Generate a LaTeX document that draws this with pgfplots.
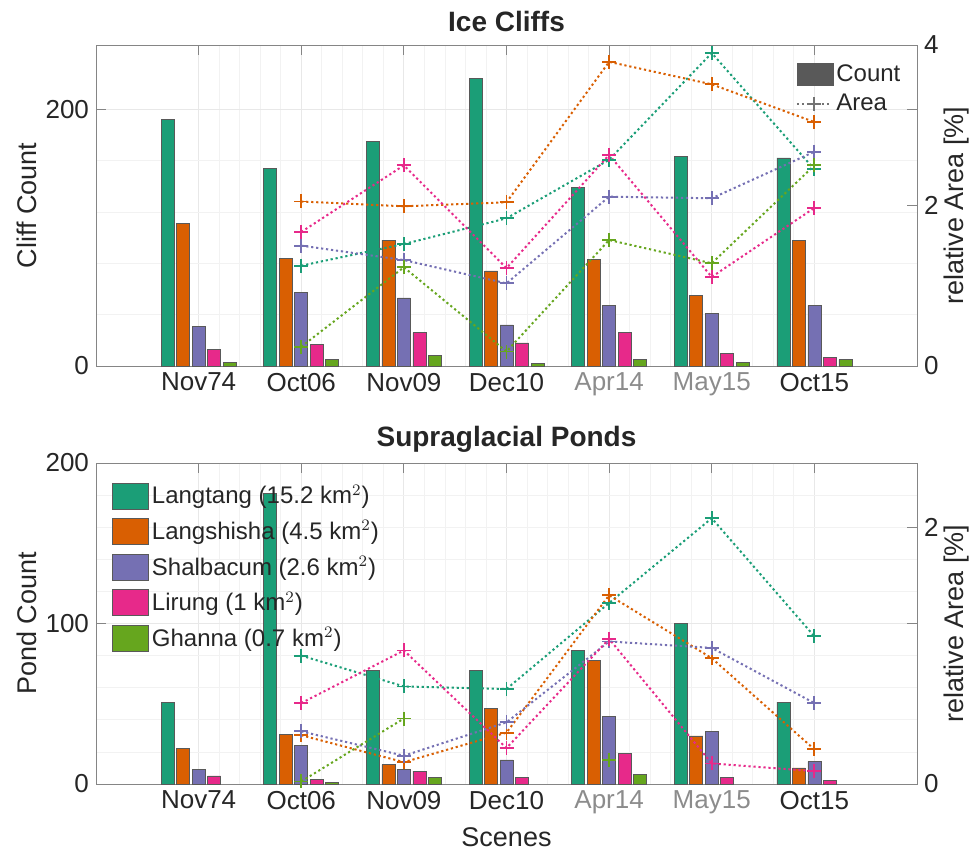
\documentclass[border=0pt]{standalone}
\usepackage{fontspec}
\setmainfont{Liberation Sans}
\usepackage{pgfplots}
\pgfplotsset{compat=1.18}
\definecolor{cA}{HTML}{1B9E77}
\definecolor{cB}{HTML}{D95F02}
\definecolor{cC}{HTML}{7570B3}
\definecolor{cD}{HTML}{E7298A}
\definecolor{cE}{HTML}{66A61E}
\definecolor{axgray}{HTML}{858585}
\definecolor{txt}{HTML}{262626}
\definecolor{lightlab}{HTML}{8C8C8C}
\pgfplotsset{
  base/.style={scale only axis, width=410.5pt, height=160.5pt,
    xmin=0, xmax=8, xtick={1,...,7},
    xticklabels={Nov74,Oct06,Nov09,Dec10,\textcolor{lightlab}{Apr14},\textcolor{lightlab}{May15},Oct15},
    tick align=inside, major tick length=5pt, minor tick length=0pt,
    axis line style={axgray}, every tick/.style={axgray},
    /pgf/number format/assume math mode=true,
    font=\fontsize{12}{14}\selectfont,
    tick label style={text=txt, font=\fontsize{13}{15}\selectfont},
    label style={text=txt, font=\fontsize{13.5}{16}\selectfont},
    title style={text=txt, font=\fontsize{14}{16}\selectfont\bfseries}},
  leftax/.style={base, ytick pos=both, yticklabel pos=left, xtick pos=both, xticklabel pos=bottom,
    grid=both, minor x tick num=4, minor y tick num=4,
    major grid style={black!9}, minor grid style={black!5}, ylabel shift=-2.5pt},
  rightax/.style={base, axis y line*=right, axis x line=none, ymin=0, ylabel shift=-4pt},
  mybar/.style={ybar, bar width=6.5pt, draw=black!65, line width=0.35pt,
    legend image code/.code={\draw[##1] (0pt,-6.5pt) rectangle (18pt,6.5pt);}},
  myline/.style={dash pattern=on 1.1pt off 1.4pt, line width=1pt, mark=+, mark size=3.5pt,
    mark options={solid, line width=0.9pt}, forget plot},
  countleg/.style={legend image code/.code={\draw[fill=black!65,draw=black!65] (0pt,-5.5pt) rectangle (18pt,5.5pt);}},
}
\begin{document}
\begin{tikzpicture}
\useasboundingbox (-48pt,-243pt) rectangle (440pt,183pt);
% ---------------- Ice Cliffs ----------------
\begin{axis}[leftax, ymin=0, ymax=250, ytick={0,200},
  title={Ice Cliffs}, title style={yshift=-3pt},
  ylabel={Cliff Count}]
\addplot[mybar, bar shift=-15.5pt, fill=cA] coordinates {(1,192) (2,154) (3,175) (4,224) (5,139) (6,163) (7,162)};
\addplot[mybar, bar shift=-7.75pt, fill=cB] coordinates {(1,111) (2,84) (3,98) (4,74) (5,83) (6,55) (7,98)};
\addplot[mybar, bar shift=0pt, fill=cC] coordinates {(1,31) (2,57) (3,53) (4,32) (5,47) (6,41) (7,47)};
\addplot[mybar, bar shift=7.75pt, fill=cD] coordinates {(1,13) (2,17) (3,26) (4,18) (5,26) (6,10) (7,7)};
\addplot[mybar, bar shift=15.5pt, fill=cE] coordinates {(1,3) (2,5) (3,8) (4,2) (5,5) (6,2.5) (7,5)};
\end{axis}
\begin{axis}[rightax, ymax=4, ytick={0,2,4}, ylabel={relative Area [\%]},
  legend style={at={(rel axis cs:0.845,0.962)}, anchor=north west, draw=none, fill=none,
    row sep=2pt, nodes={inner sep=1.5pt, text=txt}}, legend cell align=left]
\addplot[myline, cA] coordinates {(2,1.25) (3,1.52) (4,1.84) (5,2.57) (6,3.90) (7,2.45)};
\addplot[myline, cB] coordinates {(2,2.05) (3,1.99) (4,2.04) (5,3.79) (6,3.51) (7,3.04)};
\addplot[myline, cC] coordinates {(2,1.50) (3,1.32) (4,1.03) (5,2.11) (6,2.09) (7,2.67)};
\addplot[myline, cD] coordinates {(2,1.67) (3,2.50) (4,1.22) (5,2.63) (6,1.11) (7,1.97)};
\addplot[myline, cE] coordinates {(2,0.24) (3,1.23) (4,0.18) (5,1.57) (6,1.28) (7,2.50)};
\addlegendimage{countleg}
\addlegendentry{Count}
\addlegendimage{black!55, dash pattern=on 1pt off 1.5pt, line width=0.8pt, mark=+, mark size=3.5pt, mark options={solid, line width=0.9pt}}
\addlegendentry{Area}
\end{axis}
% ---------------- Supraglacial Ponds ----------------
\begin{axis}[leftax, at={(0pt,-209pt)}, ymin=0, ymax=200, ytick={0,100,200},
  title={Supraglacial Ponds}, title style={yshift=-4pt},
  ylabel={Pond Count}, xlabel={Scenes},
  legend style={at={(rel axis cs:0.012,0.955)}, anchor=north west, draw=none, fill=none,
    row sep=3.8pt, nodes={inner sep=1.5pt, text=txt}}, legend cell align=left]
\addplot[mybar, bar shift=-15.5pt, fill=cA] coordinates {(1,51) (2,181) (3,71) (4,71) (5,83) (6,100) (7,51)};
\addlegendentry{Langtang (15.2 km$^2$)}
\addplot[mybar, bar shift=-7.75pt, fill=cB] coordinates {(1,22) (2,31) (3,12) (4,47) (5,77) (6,30) (7,10)};
\addlegendentry{Langshisha (4.5 km$^2$)}
\addplot[mybar, bar shift=0pt, fill=cC] coordinates {(1,9) (2,24) (3,9) (4,15) (5,42) (6,33) (7,14)};
\addlegendentry{Shalbacum (2.6 km$^2$)}
\addplot[mybar, bar shift=7.75pt, fill=cD] coordinates {(1,5) (2,3) (3,8) (4,4) (5,19) (6,4) (7,2)};
\addlegendentry{Lirung (1 km$^2$)}
\addplot[mybar, bar shift=15.5pt, fill=cE] coordinates {(2,1) (3,4) (5,6)};
\addlegendentry{Ghanna (0.7 km$^2$)}
\end{axis}
\begin{axis}[rightax, at={(0pt,-209pt)}, ymax=2.5, ytick={0,2}, ylabel={relative Area [\%]},
  unbounded coords=jump]
\addplot[myline, cA] coordinates {(2,1.00) (3,0.76) (4,0.74) (5,1.41) (6,2.07) (7,1.15)};
\addplot[myline, cB] coordinates {(2,0.38) (3,0.17) (4,0.40) (5,1.47) (6,0.98) (7,0.27)};
\addplot[myline, cC] coordinates {(2,0.41) (3,0.22) (4,0.48) (5,1.11) (6,1.06) (7,0.63)};
\addplot[myline, cD] coordinates {(2,0.63) (3,1.04) (4,0.28) (5,1.13) (6,0.16) (7,0.10)};
\addplot[myline, cE] coordinates {(2,0.02) (3,0.51) (4,nan) (5,0.19)};
\end{axis}
\end{tikzpicture}
\end{document}
